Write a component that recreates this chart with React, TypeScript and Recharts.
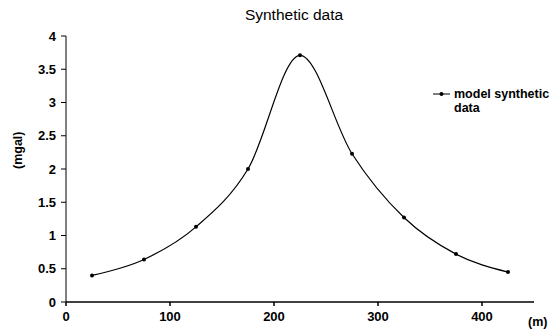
import { LineChart, Line, XAxis, YAxis } from "recharts";

// distance along profile (m) and modelled anomaly (mgal)
const distances = [25, 75, 125, 175, 225, 275, 325, 375, 425];
const anomaly = [0.4, 0.64, 1.13, 2.0, 3.71, 2.23, 1.27, 0.72, 0.45];
const xTicks = [0, 100, 200, 300, 400];
const yTicks = [0, 0.5, 1, 1.5, 2, 2.5, 3, 3.5, 4];

const data = distances.map((d, i) => ({ dist: d, value: anomaly[i] }));

const font = "'Liberation Sans', Arial, sans-serif";
const tickStyle = { fill: "#000", fontSize: 13, fontWeight: 700, fontFamily: font };

// legend drawn as plain HTML so recharts doesn't shrink the plot for it
function LegendBox() {
  return (
    <div
      style={{
        position: "absolute",
        left: 433,
        top: 87,
        display: "flex",
        alignItems: "flex-start",
        fontFamily: font,
        fontSize: 12.5,
        fontWeight: 700,
        color: "#000",
        lineHeight: "14px",
      }}
    >
      <svg width={21} height={14} style={{ flexShrink: 0 }}>
        <line x1={0} y1={7} x2={17} y2={7} stroke="#000" strokeWidth={1} />
        <circle cx={8.5} cy={7} r={2} fill="#000" />
      </svg>
      <span>
        model synthetic
        <br />
        data
      </span>
    </div>
  );
}

export default function App() {
  return (
    <div style={{ position: "absolute", left: 0, top: 0, width: 557, height: 332, background: "#fff" }}>
      <div
        style={{
          position: "absolute",
          left: 0,
          width: 588,
          top: 6,
          textAlign: "center",
          fontFamily: font,
          fontSize: 15.5,
          color: "#000",
        }}
      >
        Synthetic data
      </div>
      <LineChart width={557} height={332} data={data} margin={{ top: 36, right: 23, bottom: 0, left: 0 }}>
        <XAxis
          dataKey="dist"
          type="number"
          domain={[0, 450]}
          ticks={xTicks}
          stroke="#000"
          strokeWidth={1.5}
          tickSize={4}
          tickMargin={6}
          height={30}
          tick={tickStyle}
          label={{ value: "(m)", position: "right", offset: -6, dy: 5, fill: "#000", fontSize: 12.5, fontWeight: 700, fontFamily: font }}
        />
        <YAxis
          type="number"
          domain={[0, 4]}
          ticks={yTicks}
          stroke="#000"
          width={66}
          tickSize={5}
          tickMargin={5}
          tick={tickStyle}
          label={{ value: "(mgal)", angle: -90, position: "insideLeft", offset: 18, fill: "#000", fontSize: 12.5, fontWeight: 700, fontFamily: font }}
        />
        <Line
          type="monotone"
          dataKey="value"
          name="model synthetic data"
          stroke="#000"
          strokeWidth={1.2}
          dot={{ r: 2, fill: "#000", stroke: "#000", strokeWidth: 0 }}
          activeDot={false}
          isAnimationActive={false}
        />
      </LineChart>
      <LegendBox />
    </div>
  );
}
